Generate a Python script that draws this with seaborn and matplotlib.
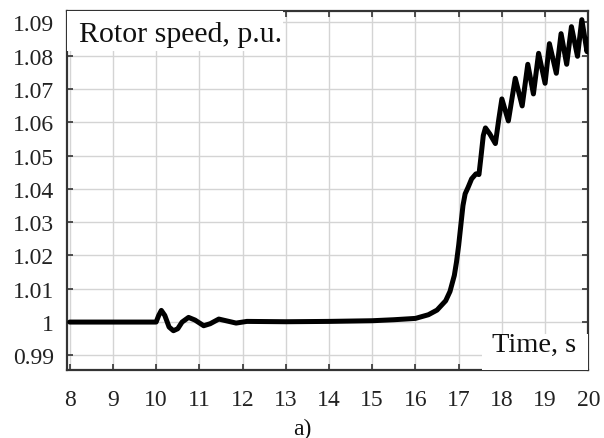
import matplotlib
matplotlib.use("Agg")
import matplotlib.pyplot as plt
import matplotlib.patches as patches
import seaborn as sns
import pandas as pd

# Rotor speed trace (time in s, speed in p.u.)
time_s = [8.0, 9.0, 10.0, 10.06, 10.12, 10.2, 10.3, 10.4, 10.5, 10.6, 10.75,
          10.9, 11.1, 11.25, 11.45, 11.65, 11.85, 12.1, 13.0, 14.0, 15.0,
          15.5, 16.0, 16.3, 16.5, 16.7, 16.8, 16.9, 16.95, 17.0, 17.05, 17.1,
          17.15, 17.22, 17.3, 17.4, 17.47, 17.52, 17.57, 17.62, 17.72, 17.85,
          17.93, 18.0, 18.15, 18.31, 18.47, 18.6, 18.73, 18.85, 19.0, 19.1,
          19.26, 19.37, 19.5, 19.61, 19.75, 19.85, 19.97, 20.0]
speed_pu = [1.0, 1.0, 1.0, 1.002, 1.0035, 1.002, 0.9985, 0.9974, 0.998, 1.0,
            1.0014, 1.0006, 0.9989, 0.9995, 1.0009, 1.0003, 0.9997, 1.0002,
            1.0001, 1.0002, 1.0004, 1.0007, 1.0011, 1.0022, 1.0036, 1.0064,
            1.0092, 1.014, 1.018, 1.023, 1.029, 1.035, 1.0385, 1.0405, 1.043,
            1.0445, 1.0443, 1.050, 1.056, 1.0583, 1.0565, 1.0536, 1.061, 1.067,
            1.0604, 1.0732, 1.0649, 1.0774, 1.0685, 1.0807, 1.0717, 1.0836,
            1.0747, 1.0866, 1.0774, 1.0887, 1.0798, 1.0908, 1.0812, 1.085]

x_ticks = list(range(8, 21))
y_ticks = [0.99, 1.0, 1.01, 1.02, 1.03, 1.04, 1.05, 1.06, 1.07, 1.08, 1.09]
y_labels = ["0.99", "1", "1.01", "1.02", "1.03", "1.04", "1.05", "1.06",
            "1.07", "1.08", "1.09"]

sns.set_theme(style="whitegrid")
plt.rcParams['font.family'] = ['Liberation Serif', 'DejaVu Serif']

df = pd.DataFrame({"t": time_s, "w": speed_pu})

fig = plt.figure(figsize=(6.04, 4.39), dpi=100)
ax = fig.add_axes([0.1104, 0.1556, 0.8636, 0.8178])

sns.lineplot(data=df, x="t", y="w", color="black", linewidth=3.6, ax=ax,
             zorder=5)

ax.set_xlim(7.93, 20.0)
ax.set_ylim(0.9857, 1.0935)
ax.set_xticks(x_ticks)
ax.set_yticks(y_ticks)
ax.set_yticklabels(y_labels)
ax.set_xlabel("")
ax.set_ylabel("")

ax.grid(True, color="#d4d4d4", linewidth=1.0)
ax.set_facecolor("white")
for sp in ax.spines.values():
    sp.set_color("#333333")
    sp.set_linewidth(1.6)
ax.tick_params(direction="in", length=4, width=1.2, color="#333333",
               top=True, right=True, bottom=True, left=True,
               labelsize=17, labelcolor="#222222")
ax.tick_params(axis="x", pad=14)
ax.tick_params(axis="y", pad=9)

# white boxes behind the in-plot labels
ax.add_patch(patches.Rectangle((0, 0.889), 0.415, 0.111, transform=ax.transAxes,
                               facecolor="white", edgecolor="none", zorder=3))
ax.add_patch(patches.Rectangle((0.796, 0), 0.204, 0.0995, transform=ax.transAxes,
                               facecolor="white", edgecolor="none", zorder=3))
ax.text(0.0235, 0.936, "Rotor speed, p.u.", transform=ax.transAxes,
        fontsize=21.5, ha="left", va="center", color="#111111", zorder=6)
ax.text(0.9766, 0.0716, "Time, s", transform=ax.transAxes,
        fontsize=20.5, ha="right", va="center", color="#111111", zorder=6)

fig.text(0.5, 0.022, "a)", fontsize=17, ha="center", va="center",
         color="#111111")

fig.savefig("out.png", dpi=100)
